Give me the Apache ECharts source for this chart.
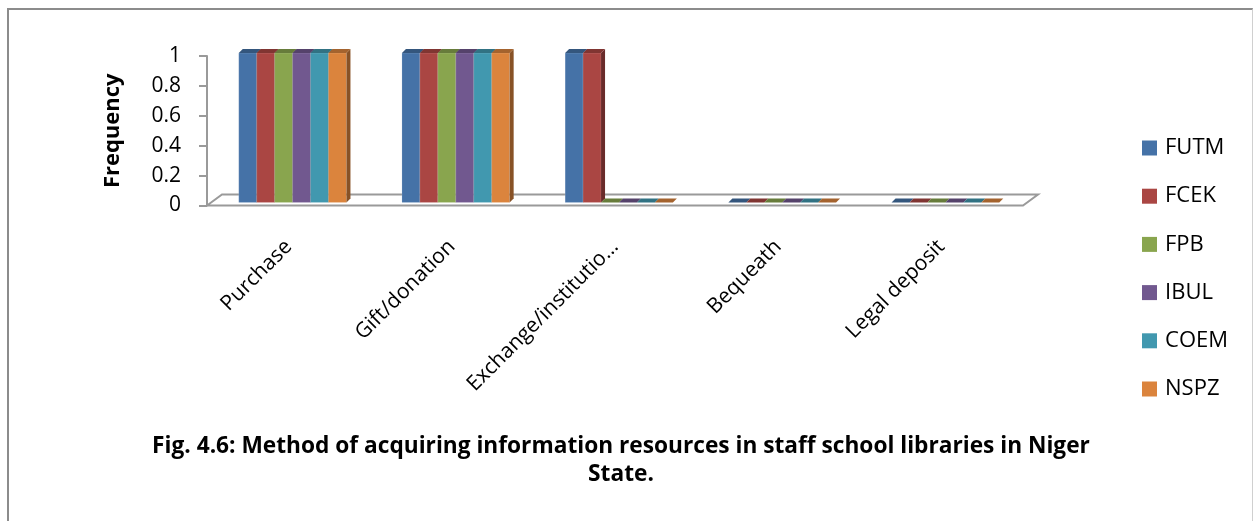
<!DOCTYPE html>
<html>
<head>
<meta charset="utf-8">
<script src="https://cdn.jsdelivr.net/npm/echarts@6/dist/echarts.min.js"></script>
<style>
  html, body { margin: 0; padding: 0; background: #fff; }
  #frame { position: absolute; left: 7px; top: 8px; width: 1246px; height: 530px;
           border-left: 2px solid #8c8c8c; border-top: 2px solid #8c8c8c; border-right: 1px solid #d0d0d0; box-sizing: border-box; }
  #chart { position: absolute; left: 0; top: 0; width: 1255px; height: 521px; }
</style>
</head>
<body>
<div id="frame"></div>
<div id="chart"></div>
<script>
// Acquisition methods and, per library, how often each was reported
const categories = ['Purchase', 'Gift/donation', 'Exchange/institutio…', 'Bequeath', 'Legal deposit'];
const FUTM = [1, 1, 1, 0, 0];
const FCEK = [1, 1, 1, 0, 0];
const FPB  = [1, 1, 0, 0, 0];
const IBUL = [1, 1, 0, 0, 0];
const COEM = [1, 1, 0, 0, 0];
const NSPZ = [1, 1, 0, 0, 0];
const seriesNames = ['FUTM', 'FCEK', 'FPB', 'IBUL', 'COEM', 'NSPZ'];
const seriesValues = [FUTM, FCEK, FPB, IBUL, COEM, NSPZ];
const palette = ['#4572A7', '#AA4643', '#89A54E', '#71588F', '#4198AF', '#DB843D'];
const yTicks = [0, 0.2, 0.4, 0.6, 0.8, 1];

const FONT = '"Open Sans", Lato, sans-serif';
const DEPTH = 4;       // bar depth projection in px
const LIFT = 3;        // bars stand slightly inside the floor
const BAR_FRAC = 0.11; // bar width as share of a category band
const GROUP_SHIFT = 4;

function shade(hex, f) {
  const n = parseInt(hex.slice(1), 16);
  const r = Math.round(((n >> 16) & 255) * f);
  const g = Math.round(((n >> 8) & 255) * f);
  const b = Math.round((n & 255) * f);
  return 'rgb(' + r + ',' + g + ',' + b + ')';
}

function barRenderer(sIdx) {
  const color = palette[sIdx];
  return function (params, api) {
    const cat = api.value(0);
    const val = api.value(1);
    const base = api.coord([cat, 0]);
    const top = api.coord([cat, val]);
    const band = api.size([1, 0])[0];
    const w = band * BAR_FRAC;
    const x0 = base[0] - 3 * w + sIdx * w + GROUP_SHIFT;
    const yb = base[1] - LIFT;
    const yt = top[1] - LIFT;
    const children = [];
    if (yb - yt > 0.5) {
      children.push({
        type: 'rect', shape: { x: x0, y: yt, width: w, height: yb - yt },
        style: { fill: color, stroke: 'rgba(255,255,255,0.25)', lineWidth: 0.6 }
      });
      children.push({
        type: 'polygon',
        shape: { points: [[x0 + w, yt], [x0 + w + DEPTH, yt - DEPTH], [x0 + w + DEPTH, yb - DEPTH], [x0 + w, yb]] },
        style: { fill: shade(color, 0.62) }
      });
    }
    children.push({
      type: 'polygon',
      shape: { points: [[x0, yt], [x0 + DEPTH, yt - DEPTH], [x0 + w + DEPTH, yt - DEPTH], [x0 + w, yt]] },
      style: { fill: shade(color, 0.75) }
    });
    return { type: 'group', children: children };
  };
}

function floorRenderer(params, api) {
  const cs = params.coordSys;
  const x0 = cs.x, x1 = cs.x + cs.width, y0 = cs.y + cs.height;
  const dx = 15, dy = 11;
  return {
    type: 'polygon',
    shape: { points: [[x0, y0], [x0 + dx, y0 - dy], [x1 + dx, y0 - dy], [x1, y0]] },
    style: { fill: 'none', stroke: '#9a9a9a', lineWidth: 2 }
  };
}

const series = [{
  type: 'custom', name: 'floor', renderItem: floorRenderer,
  data: [[0, 0]], silent: true, z: 1
}];
seriesNames.forEach(function (name, i) {
  series.push({
    type: 'custom',
    name: name,
    renderItem: barRenderer(i),
    itemStyle: { color: palette[i] },
    encode: { x: 0, y: 1 },
    data: seriesValues[i].map(function (v, k) { return [k, v]; }),
    z: 2 + i
  });
});

const chart = echarts.init(document.getElementById('chart'));
chart.setOption({
  animation: false,
  color: palette,
  title: {
    text: 'Fig. 4.6: Method of acquiring information resources in staff school libraries in Niger\nState.',
    left: 616, top: 428, textAlign: 'center',
    textStyle: { fontFamily: FONT, fontSize: 22.7, fontWeight: 'bold', color: '#000', lineHeight: 28 }
  },
  legend: {
    data: seriesNames,
    orient: 'vertical',
    right: 27, top: 137, padding: 0,
    icon: 'rect', itemWidth: 15, itemHeight: 15, itemGap: 26.2,
    textStyle: { fontFamily: FONT, fontSize: 22, lineHeight: 21, color: '#000', padding: [0, 0, 0, 3] }
  },
  grid: { left: 207, right: 232, top: 56, bottom: 315.5, containLabel: false },
  xAxis: {
    type: 'category',
    data: categories,
    axisLine: { show: false },
    axisTick: { show: false },
    axisLabel: { rotate: 45, margin: 38, interval: 0, fontFamily: FONT, fontSize: 21, color: '#000' }
  },
  yAxis: {
    type: 'value', min: 0, max: 1, interval: 0.2,
    name: 'Frequency', nameLocation: 'middle', nameGap: 83, nameRotate: 90,
    nameTextStyle: { fontFamily: FONT, fontSize: 22, fontWeight: 'bold', color: '#000' },
    axisLine: { show: true, lineStyle: { color: '#9a9a9a', width: 2 } },
    axisTick: { show: true, length: 8, lineStyle: { color: '#9a9a9a', width: 2 } },
    splitLine: { show: false },
    axisLabel: {
      margin: 26, fontFamily: FONT, fontSize: 21, color: '#000',
      formatter: function (v) { return String(yTicks.find(function (t) { return Math.abs(t - v) < 1e-9; }) ?? v); }
    }
  },
  series: series
});
</script>
</body>
</html>
